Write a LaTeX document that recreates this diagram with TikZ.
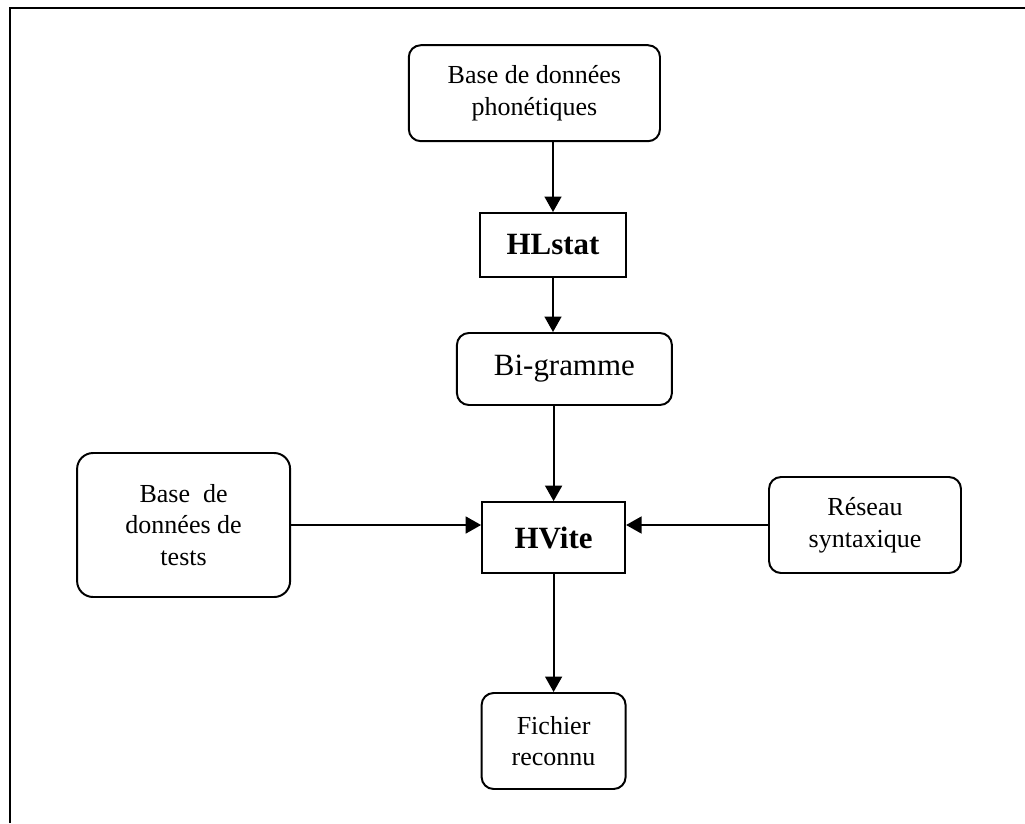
\documentclass[tikz,border=0pt]{standalone}
\usepackage{fontspec}
\setmainfont{Liberation Serif}
\usetikzlibrary{arrows.meta,calc}

\tikzset{
	bloc/.style={draw, line width=1.4pt, rounded corners=0.3cm, align=center,
		inner sep=0pt, font=\fontsize{18.5}{22.5}\selectfont},
	outil/.style={draw, line width=1.4pt, align=center, inner sep=0pt,
		font=\fontsize{22}{26}\selectfont\bfseries},
	fleche/.style={line width=1.4pt, -{Triangle[length=11pt,width=12pt]}}
}

\begin{document}
\begin{tikzpicture}
			%%%%% CADRE %%%%%
			\useasboundingbox (0, 0) rectangle (25.625, -20.575);
			\draw[line width=1.4pt] (0.24, -20.575) -- (0.24, -0.2) -- (25.625, -0.2);
			
			%%%%% BLOCS %%%%%
			\node[bloc, minimum width=6.28cm, minimum height=2.4cm] (phon) at (13.36, -2.33) {Base de données\\phonétiques};
			\node[outil, minimum width=3.63cm, minimum height=1.6cm] (hlstat) at (13.825, -6.125) {HLstat};
			\node[bloc, minimum width=5.375cm, minimum height=1.8cm, font=\fontsize{22}{26}\selectfont] (bigr) at (14.11, -9.225) {Bi-gramme};
			\node[outil, minimum width=3.575cm, minimum height=1.775cm] (hvite) at (13.84, -13.44) {HVite};
			\node[bloc, minimum width=5.325cm, minimum height=3.6cm, rounded corners=0.4cm] (tests) at (4.59, -13.125) {Base~~de\\données de\\tests};
			\node[bloc, minimum width=4.8cm, minimum height=2.4cm] (reseau) at (21.625, -13.125) {Réseau\\syntaxique};
			\node[bloc, minimum width=3.6cm, minimum height=2.4cm] (fichier) at (13.84, -18.525) {Fichier\\reconnu};
			
			%%%%% FLECHES %%%%%
			\draw[fleche] (phon.south -| hlstat) -- (hlstat);
			\draw[fleche] (hlstat) -- (bigr.north -| hlstat);
			\draw[fleche] (bigr.south -| hvite) -- (hvite);
			\draw[fleche] (tests.east) -- (tests.east -| hvite.west);
			\draw[fleche] (reseau.west) -- (reseau.west -| hvite.east);
			\draw[fleche] (hvite) -- (fichier);
			
			%%%%% FIN %%%%%
\end{tikzpicture}
\end{document}
